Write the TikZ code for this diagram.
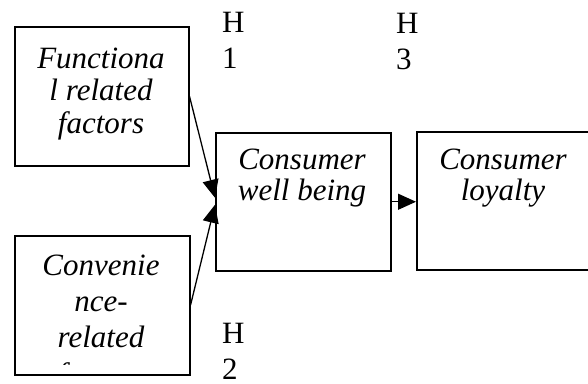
\documentclass[tikz,border=0pt]{standalone}
\usepackage{fontspec}
\setmainfont{Liberation Serif}
\usetikzlibrary{arrows.meta}
\begin{document}
\begin{tikzpicture}[x=1pt,y=-1pt,
  box/.style={draw, line width=1.5pt, rectangle, anchor=north west, inner sep=0pt},
  lbl/.style={align=center, anchor=base, inner sep=0pt},
  hyp/.style={font=\fontsize{31}{36}\selectfont, align=left, anchor=base west, inner sep=0pt},
  conn/.style={line width=1.3pt, -{Triangle[length=18pt,width=16pt]}}]
\useasboundingbox (0,0) rectangle (588,383);
% boxes
\node[box, minimum width=174pt, minimum height=139pt] (f) at (14,26) {};
\node[box, minimum width=175pt, minimum height=139pt] (c) at (14,235) {};
\node[box, minimum width=175pt, minimum height=138pt] (w) at (215,132) {};
\node[box, minimum width=180pt, minimum height=138pt] (l) at (416,131) {};
% texts (base anchor = last line)
\node[lbl, font=\fontsize{31}{32.5}\selectfont\itshape] (ft) at (101,133) {Functiona\\l related\\factors};
\begin{scope}
  \clip (14,235) rectangle (189,364.5);
  \node[lbl, font=\fontsize{31}{36.3}\selectfont\itshape] (ct) at (101,384) {Convenie\\nce-\\related\\factors};
\end{scope}
\node[lbl, font=\fontsize{31}{31}\selectfont\itshape] (wt) at (302,200) {Consumer\\well being};
\node[lbl, font=\fontsize{31}{31}\selectfont\itshape] (lt) at (503,200) {Consumer\\loyalty};
% hypotheses
\node[hyp] (h1) at (222,68) {H\\1};
\node[hyp] (h3) at (396,69) {H\\3};
\node[hyp] (h2) at (222,379) {H\\2};
% connectors
\draw[conn] (f.east) -- ([yshift=4pt]w.west);
\draw[conn] (c.east) -- ([yshift=-3pt]w.west);
\draw[conn] (w.east) -- (l.west |- w.east);
\end{tikzpicture}
\end{document}
